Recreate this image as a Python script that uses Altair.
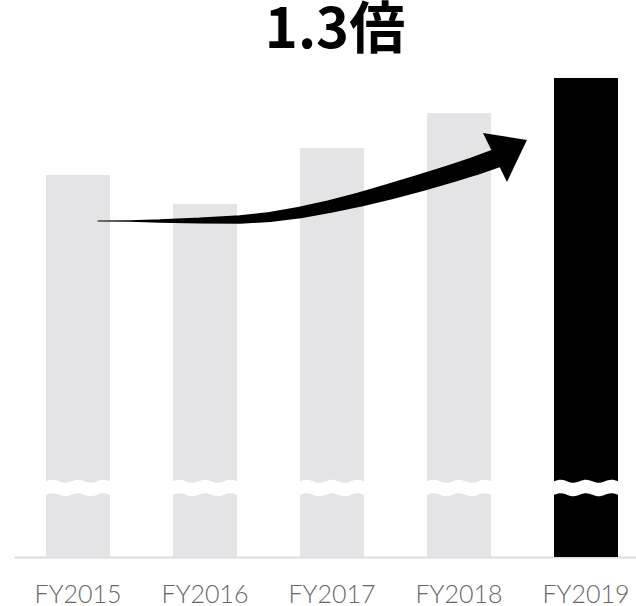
import altair as alt
import numpy as np
import pandas as pd

# ---- data ----
years = ["FY2015", "FY2016", "FY2017", "FY2018", "FY2019"]
values = [382, 353, 409, 444, 479]          # bar heights (chart units)
bar_colors = ["#e4e4e6", "#e4e4e6", "#e4e4e6", "#e4e4e6", "#000000"]
title_text = "1.3倍"

# growth arrow: x in category-index units (0 = FY2015 centre, 1 = one step), y in chart units
arrow_x = [0.157, 0.409, 0.646, 0.961, 1.276, 1.512, 1.748, 1.984, 2.220,
           2.457, 2.693, 2.929, 3.126, 3.323]
arrow_y = [336, 336, 336, 336.5, 337.5, 340, 344.5, 350.5, 357.5,
           365.5, 374, 383, 391, 400]
arrow_w = [0, 1.5, 3.5, 6, 8.5, 10, 11.5, 13, 14.5, 16, 17, 18, 18.5, 19]
head_x = [3.189, 3.378, 3.535]
head_top = [424, 420.2, 417]
head_bottom = [424, 375, 417]

# axis-break band (white wavy gap across the bars)
break_centre = 69
break_half = 6.75
break_amp = 1.5
break_wavelength = 0.2          # in category steps

W, H = 622, 500
XDOM = [-0.504, 4.394]
YDOM = [0, 500]

bars_df = pd.DataFrame({"year": years, "value": values, "color": bar_colors})
arrow_df = pd.DataFrame({"x": arrow_x, "y": arrow_y, "w": arrow_w,
                         "o": list(range(len(arrow_x)))})
head_df = pd.DataFrame({"x": head_x, "y": head_top, "y2": head_bottom})

wx = np.linspace(XDOM[0], XDOM[1], 400)
wave = break_amp * np.sin(2 * np.pi * (wx + 0.05) / break_wavelength)
wave_df = pd.DataFrame({"x": wx, "y": break_centre + break_half + wave,
                        "y2": break_centre - break_half + wave})

yscale = alt.Scale(domain=YDOM, nice=False, zero=True)
xq = alt.X("x:Q", scale=alt.Scale(domain=XDOM, nice=False, zero=False), axis=None)

bars = alt.Chart(bars_df).mark_bar().encode(
    x=alt.X("year:N", sort=years, title=None,
            scale=alt.Scale(paddingInner=0.496, paddingOuter=0.197, align=0.64),
            axis=alt.Axis(labelAngle=0, labelFont="Lato", labelFontSize=25,
                          labelFontWeight=300,
                          labelColor="#666666", labelPadding=25, ticks=False, tickSize=0,
                          domainColor="#dcdcdc", domainWidth=2, grid=False)),
    y=alt.Y("value:Q", scale=yscale, axis=None),
    color=alt.Color("color:N", scale=None),
)

wave_band = alt.Chart(wave_df).mark_area(color="white", interpolate="linear").encode(
    x=xq,
    y=alt.Y("y:Q", scale=yscale, axis=None),
    y2="y2:Q",
)

shaft = alt.Chart(arrow_df).mark_trail(color="black").encode(
    x=xq,
    y=alt.Y("y:Q", scale=yscale, axis=None),
    size=alt.Size("w:Q", scale=None, legend=None),
    order="o:Q",
)

head = alt.Chart(head_df).mark_area(color="black", interpolate="linear").encode(
    x=xq,
    y=alt.Y("y:Q", scale=yscale, axis=None),
    y2="y2:Q",
)

chart = alt.layer(bars, wave_band, shaft, head).resolve_scale(
    x="independent"
).properties(
    width=W, height=H,
    title=alt.TitleParams(title_text, font="Noto Sans CJK JP", fontSize=56,
                          fontWeight="bold", color="black", anchor="middle",
                          baseline="alphabetic", offset=-47, dx=10),
    autosize=alt.AutoSizeParams(type="none"),
    padding={"left": 14, "top": 57, "right": 0, "bottom": 49},
).configure_view(stroke=None)

chart.save("out.html", embed_options={"renderer": "svg", "actions": False})
